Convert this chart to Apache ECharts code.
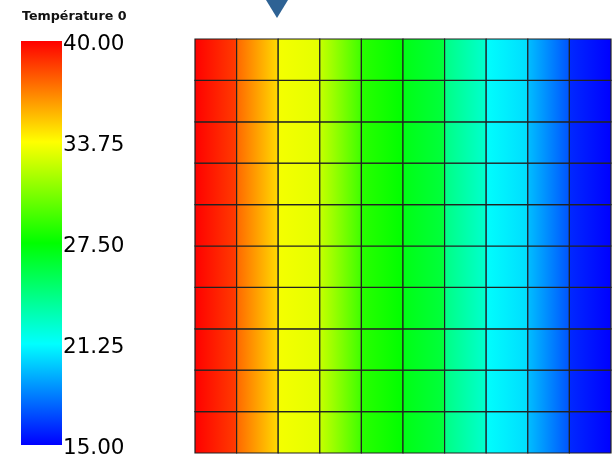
<!DOCTYPE html>
<html>
<head>
<meta charset="utf-8">
<script src="https://cdn.jsdelivr.net/npm/echarts@6/dist/echarts.min.js"></script>
<style>
  html, body { margin: 0; padding: 0; background: #fff; }
  #chart { width: 616px; height: 462px; }
</style>
</head>
<body>
<div id="chart"></div>
<script>
// Temperature field on a 10 x 10 mesh; each cell shaded from its left edge value to its right edge value
const columnIds = [0, 1, 2, 3, 4, 5, 6, 7, 8, 9];
const rowIds = [0, 1, 2, 3, 4, 5, 6, 7, 8, 9];
const tempLeft  = [40.0, 37.5, 33.5, 32.4, 28.5, 27.0, 24.3, 21.3, 19.7, 16.0];
const tempRight = [38.5, 34.6, 33.1, 29.0, 27.5, 26.0, 22.4, 20.4, 17.0, 15.0];

// Colour scale
const scaleMin = 15;
const scaleMax = 40;
const scaleStep = 6.25;
const scaleTicks = ['15.00', '21.25', '27.50', '33.75', '40.00'];
const colourStops = [
  [15.00, [0, 0, 255]],
  [21.25, [0, 255, 255]],
  [27.50, [0, 255, 0]],
  [33.75, [255, 255, 0]],
  [40.00, [255, 0, 0]]
];

function colorOf(v) {
  if (v <= colourStops[0][0]) return rgb(colourStops[0][1]);
  for (let i = 1; i < colourStops.length; i++) {
    const [v1, c1] = colourStops[i];
    const [v0, c0] = colourStops[i - 1];
    if (v <= v1) {
      const t = (v - v0) / (v1 - v0);
      return rgb(c0.map((x, k) => Math.round(x + (c1[k] - x) * t)));
    }
  }
  return rgb(colourStops[colourStops.length - 1][1]);
}
function rgb(c) { return 'rgb(' + c[0] + ',' + c[1] + ',' + c[2] + ')'; }

const cells = [];
rowIds.forEach(r => columnIds.forEach(c => cells.push([c, r, tempLeft[c], tempRight[c]])));

const chart = echarts.init(document.getElementById('chart'), null, { renderer: 'canvas' });

const labelFont = 'DejaVu Sans';
// the colour bar sits a few pixels above its tick labels
const barLift = 3;

chart.setOption({
  backgroundColor: '#ffffff',
  animation: false,
  title: {
    text: 'Température 0',
    left: 17,
    top: 5,
    textStyle: { fontFamily: labelFont, fontSize: 12.7, fontWeight: 'bold', color: '#111' }
  },
  grid: [
    { left: 195, right: 5, top: 39, bottom: 9 },
    { left: 21, width: 41, top: 44, height: 404 }
  ],
  xAxis: [
    { gridIndex: 0, type: 'value', min: 0, max: 10, show: false },
    { gridIndex: 1, type: 'value', min: 0, max: 1, show: false }
  ],
  yAxis: [
    { gridIndex: 0, type: 'value', min: 0, max: 10, show: false },
    {
      gridIndex: 1, type: 'value', position: 'right',
      min: scaleMin, max: scaleMax, interval: scaleStep,
      axisLine: { show: false }, axisTick: { show: false }, splitLine: { show: false },
      axisLabel: {
        showMinLabel: true, showMaxLabel: true,
        margin: 1,
        color: '#000', fontFamily: labelFont, fontSize: 21.5,
        formatter: v => scaleTicks[Math.round((v - scaleMin) / scaleStep)]
      }
    }
  ],
  graphic: [
    {
      type: 'polygon',
      shape: { points: [[266, 0], [288, 0], [277, 18]] },
      style: { fill: '#2e6294' }
    }
  ],
  series: [
    {
      type: 'custom',
      xAxisIndex: 0, yAxisIndex: 0,
      data: cells,
      renderItem: (params, api) => {
        const c = api.value(0), r = api.value(1);
        const p0 = api.coord([c, r + 1]);
        const p1 = api.coord([c + 1, r]);
        return {
          type: 'rect',
          shape: { x: p0[0], y: p0[1], width: p1[0] - p0[0], height: p1[1] - p0[1] },
          style: {
            fill: new echarts.graphic.LinearGradient(0, 0, 1, 0, [
              { offset: 0, color: colorOf(api.value(2)) },
              { offset: 1, color: colorOf(api.value(3)) }
            ]),
            stroke: '#222222',
            lineWidth: 1.2
          }
        };
      }
    },
    {
      type: 'custom',
      xAxisIndex: 1, yAxisIndex: 1,
      data: [[0, scaleMax, scaleMin]],
      renderItem: (params, api) => {
        const top = api.coord([0, api.value(1)]);
        const bottom = api.coord([1, api.value(2)]);
        const stops = colourStops.slice().reverse().map(s => ({
          offset: (scaleMax - s[0]) / (scaleMax - scaleMin),
          color: rgb(s[1])
        }));
        return {
          type: 'rect',
          shape: { x: top[0], y: top[1] - barLift, width: bottom[0] - top[0], height: bottom[1] - top[1] },
          style: { fill: new echarts.graphic.LinearGradient(0, 0, 0, 1, stops) }
        };
      }
    }
  ]
});
</script>
</body>
</html>
